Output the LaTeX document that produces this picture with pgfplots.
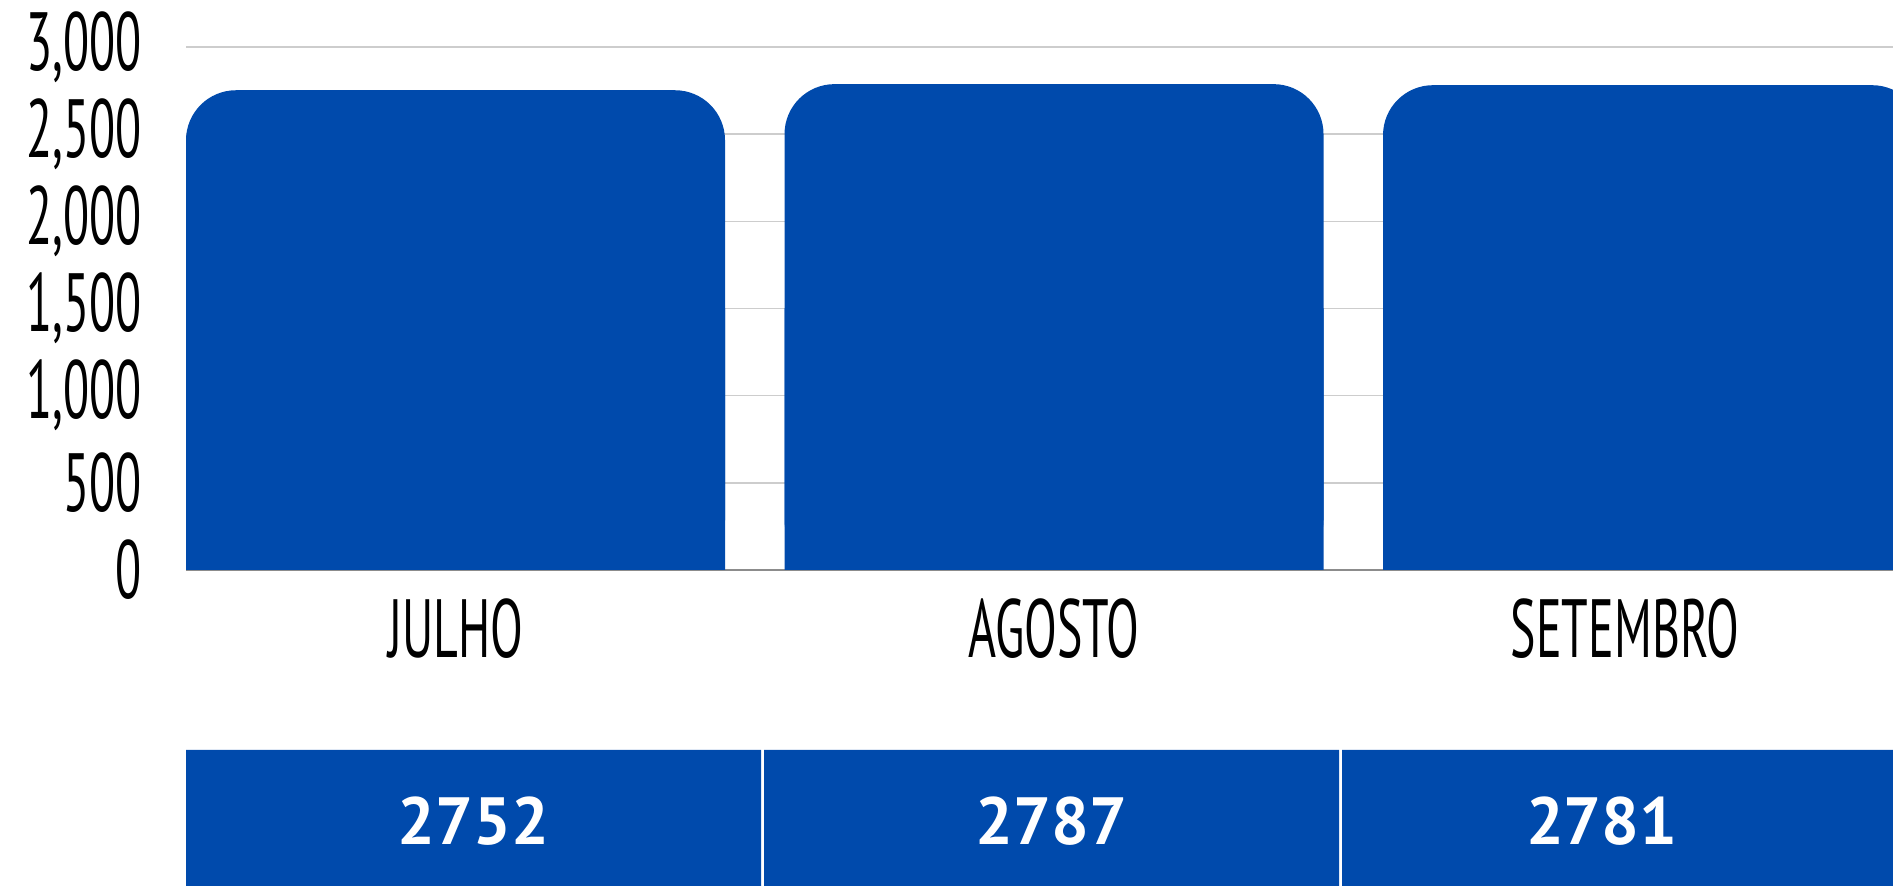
\documentclass[border=0pt]{standalone}
\usepackage{fontspec}
\setmainfont{PT Sans}[FakeStretch=0.58]
\newfontfamily\valfont{PT Sans}
\usepackage{pgfplots}
\usepackage{pgfplotstable}
\pgfplotsset{compat=1.18}
\definecolor{barblue}{HTML}{004AAC}
\definecolor{gridc}{HTML}{CDCDCD}
\definecolor{basec}{HTML}{8C8C8C}

% monthly totals
\pgfplotstableread{
x val
0 2752
1 2787
2 2781
}\months
% where the figures sit in the row below
\pgfplotstableread{
x y val
0     0.474 2752
1     0.474 2787
1.952 0.474 2781
}\cells

\begin{document}
\begin{tikzpicture}
\useasboundingbox (0,0) rectangle (18.93,8.86);
\begin{axis}[
  at={(1.86cm,3.16cm)}, anchor=south west,
  scale only axis, width=17.07cm, height=5.23cm,
  xmin=-0.4503, xmax=2.4018, ymin=0, ymax=3000,
  ytick={0,500,...,3000},
  xtick={0,1,1.954}, xticklabels={JULHO,AGOSTO,SETEMBRO},
  axis lines=left, y axis line style={draw=none},
  x axis line style={draw=basec, line width=0.6pt, -},
  tick style={draw=none},
  ymajorgrids, grid style={draw=gridc, line width=0.45pt},
  /pgf/number format/.cd, 1000 sep={,}, assume math mode=true, /pgfplots/.cd,
  ticklabel style={font=\fontsize{23.5}{26}\selectfont, text=black},
  yticklabel style={anchor=east, xshift=-0.24cm},
  xticklabel style={anchor=north, yshift=-0.09cm},
]
\addplot[ybar, bar width=5.39cm, fill=barblue, draw=none, rounded corners=0.5cm]
  table[x=x, y=val] {\months};
% square off the foot of each bar
\addplot[ybar, bar width=5.39cm, fill=barblue, draw=none, y filter/.expression={min(y,1500)}]
  table[x=x, y=val] {\months};
\end{axis}

\begin{axis}[
  at={(1.86cm,0cm)}, anchor=south west,
  scale only axis, width=17.07cm, height=1.36cm,
  xmin=-0.4974, xmax=2.4559, ymin=0, ymax=1,
  hide axis,
]
\addplot[ybar, bar width=5.75cm, fill=barblue, draw=none, y filter/.expression={1}]
  table[x=x, y=val] {\months};
\addplot[draw=none, mark=none, point meta=explicit symbolic,
  nodes near coords,
  every node near coord/.append style={anchor=center, text=white,
    font=\valfont\bfseries\fontsize{19}{22}\selectfont}]
  table[x=x, y=y, meta=val] {\cells};
\end{axis}
\end{tikzpicture}
\end{document}
